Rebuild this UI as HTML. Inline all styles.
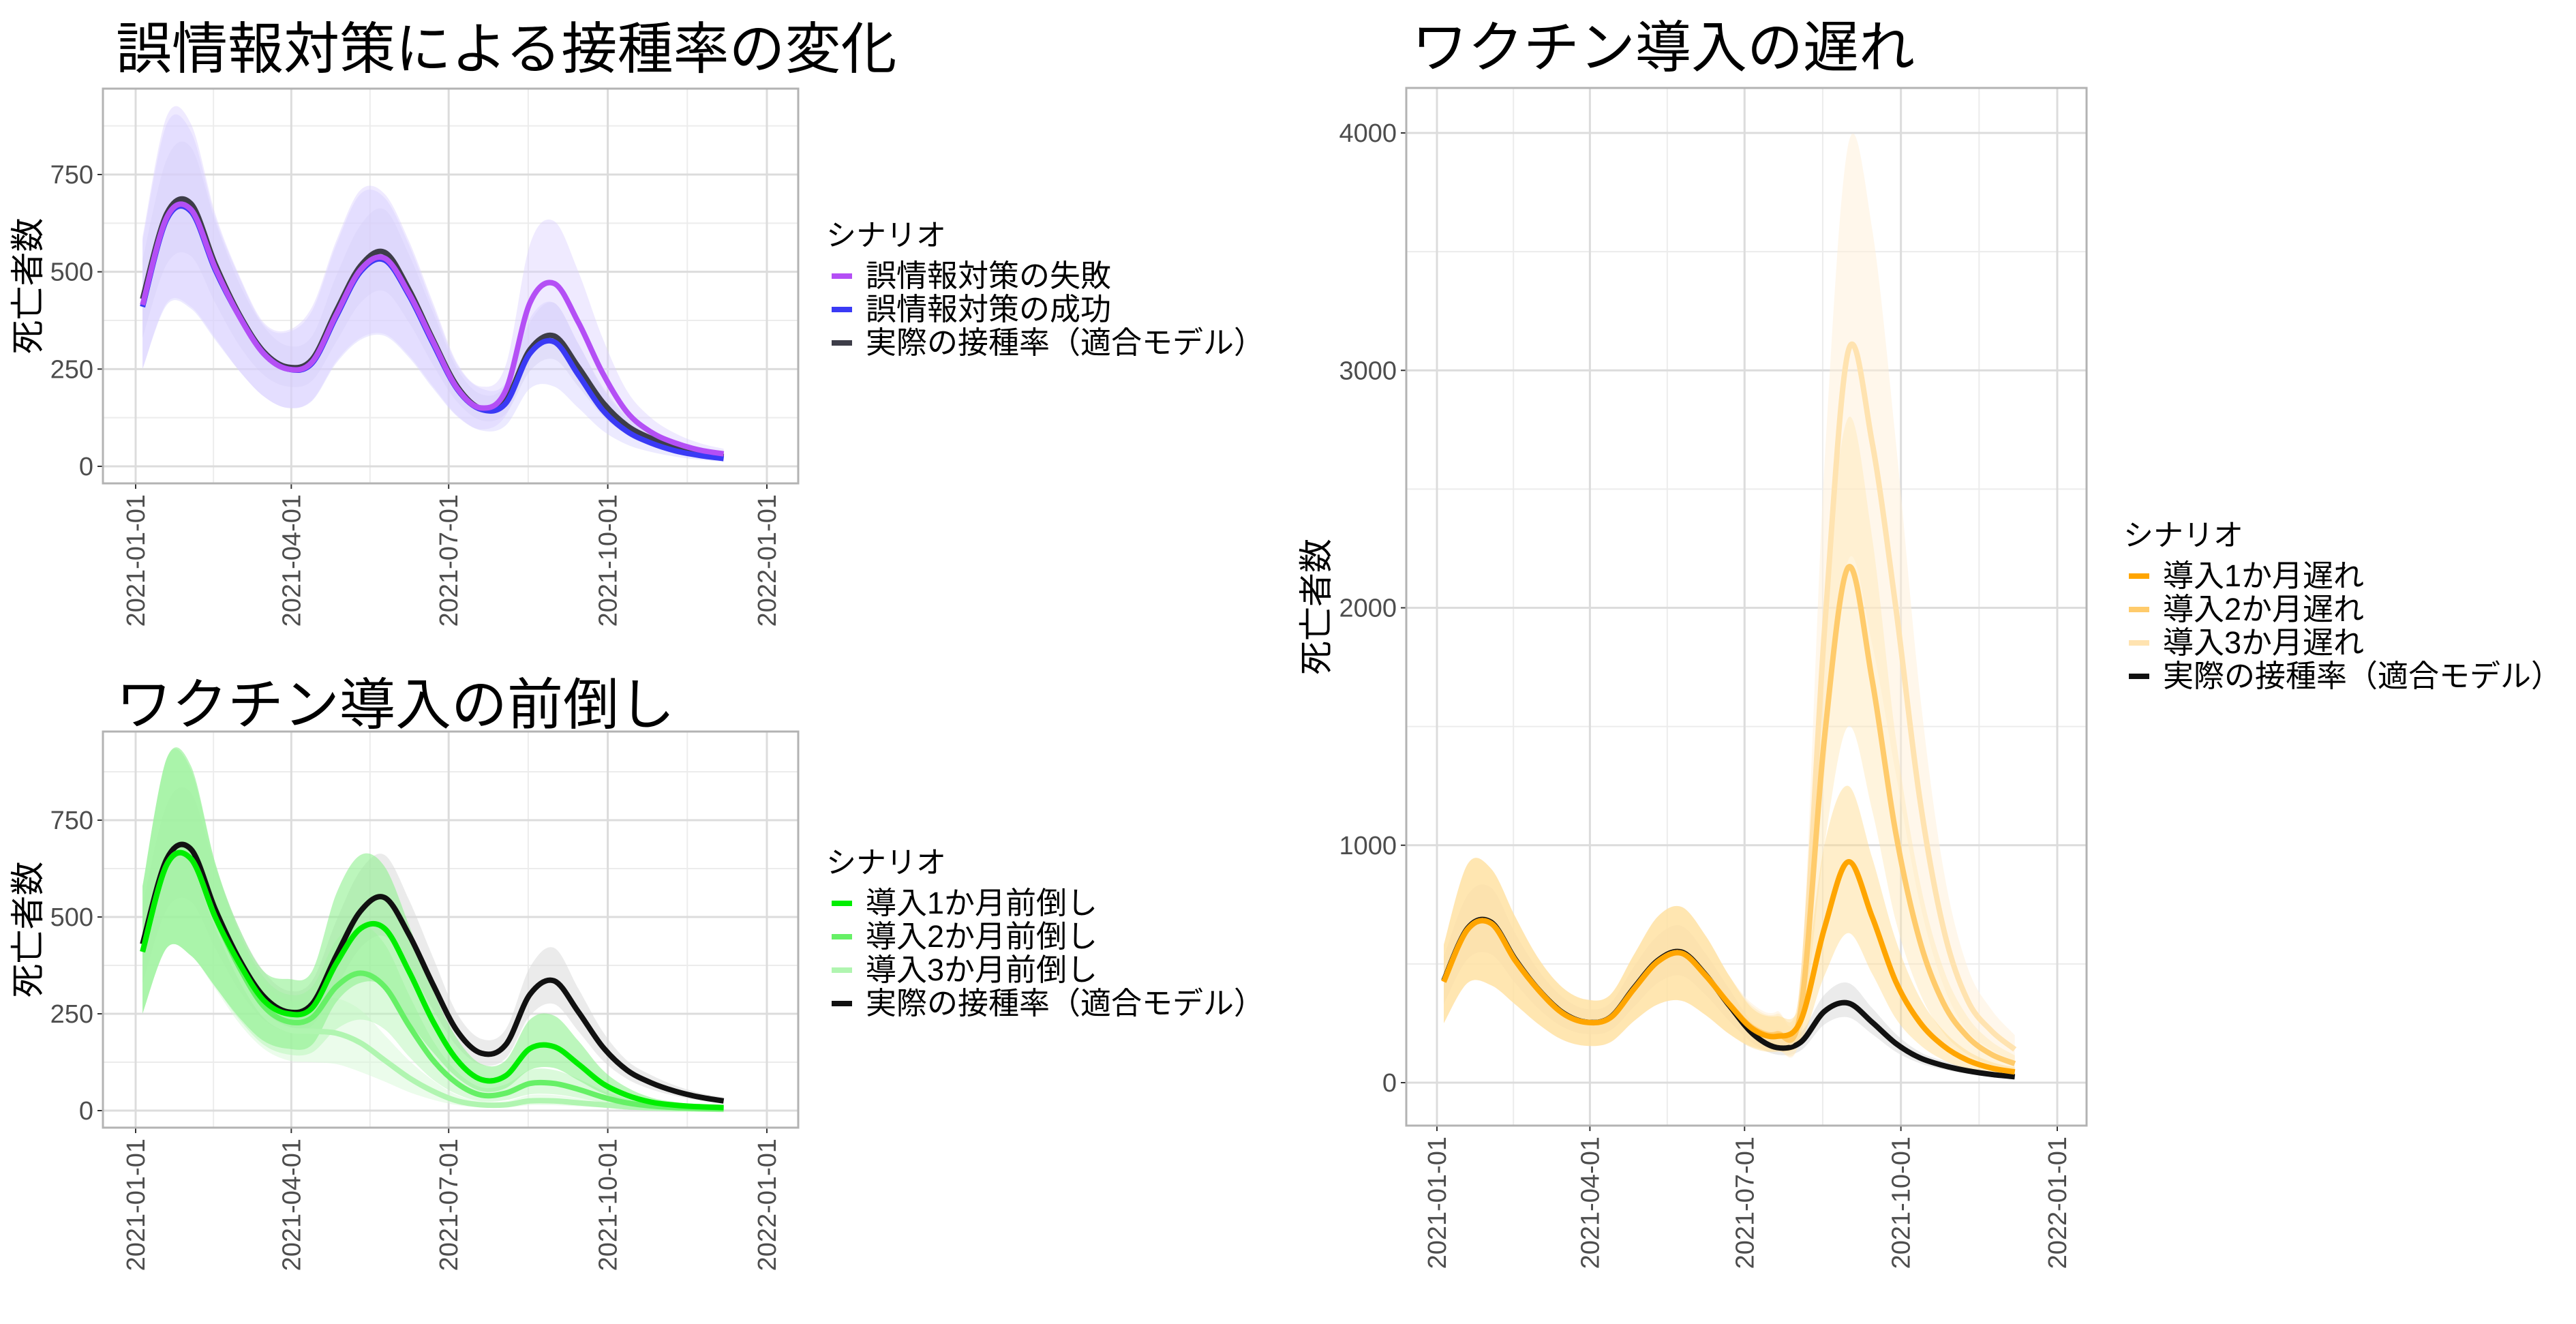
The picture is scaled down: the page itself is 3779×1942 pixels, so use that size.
<!DOCTYPE html>
<html><head><meta charset="utf-8">
<style>
html,body{margin:0;padding:0;background:#fff;}
svg{display:block;}
text{font-family:"Liberation Sans","Noto Sans CJK JP",sans-serif;}
</style></head>
<body>
<svg id="fig" width="3779" height="1942" viewBox="0 0 3779 1942" xmlns="http://www.w3.org/2000/svg">
<rect width="3779" height="1942" fill="#fff"/>
<text x="170" y="100" font-size="82" fill="#000">誤情報対策による接種率の変化</text>
<text x="170" y="1062" font-size="82" fill="#000">ワクチン導入の前倒し</text>
<text x="2071" y="98" font-size="82" fill="#000">ワクチン導入の遅れ</text>
<g id="p1"></g>
<g id="p2"></g>
<g id="p3"></g>
</svg>
<script>
const days = [4,18,32,46,60,74,88,102,116,130,144,158,172,186,200,214,228,242,256,270,284,298,312,326,340];
const xTickLabels = ["2021-01-01","2021-04-01","2021-07-01","2021-10-01","2022-01-01"];
const xTickDays = [0,90,181,273,365];

const actual = [430,650,675,520,390,295,255,275,400,515,550,455,325,205,148,170,300,335,255,165,105,72,50,35,25];
const actualLo = [330,520,540,420,310,235,205,220,320,420,450,370,260,165,118,135,245,275,205,130,82,55,38,26,18];
const actualHi = [530,790,820,630,470,360,310,335,490,620,660,545,395,250,185,210,370,420,315,205,130,92,65,46,34];

const misFail = [415,640,660,510,385,290,250,268,390,505,535,445,320,200,150,195,420,470,370,240,140,88,60,42,32];
const misFailLo = [250,420,410,330,245,180,150,170,270,330,340,285,205,130,95,130,280,330,250,160,92,58,40,28,20];
const misFailHi = [590,900,880,650,490,370,350,410,580,710,700,580,420,265,205,260,570,630,500,330,195,125,85,60,45];
const misSucc = [410,635,655,505,385,290,250,265,385,500,530,440,315,198,146,162,290,320,235,145,90,60,40,28,20];
const misSuccLo = [250,415,405,325,245,180,150,168,265,325,335,280,200,128,92,105,200,205,150,92,56,37,25,17,12];
const misSuccHi = [580,880,860,640,485,365,345,400,570,700,690,570,410,260,200,215,380,420,315,200,125,85,58,40,30];

const early1 = [410,635,650,500,380,285,250,265,380,470,470,360,230,130,80,90,160,165,120,70,40,22,14,10,8];
const early1Lo = [250,420,400,320,240,180,160,170,280,330,320,230,150,85,50,58,105,110,78,45,25,14,9,6,5];
const early1Hi = [580,910,890,640,470,360,340,360,560,660,630,480,310,185,120,130,235,245,180,105,60,34,22,15,12];
const early2 = [410,635,650,500,370,270,230,240,320,355,320,220,130,70,40,45,70,70,55,35,20,12,8,6,5];
const early2Lo = [250,420,400,320,235,170,145,150,210,235,210,140,80,42,24,27,42,42,33,21,12,7,5,3,3];
const early2Hi = [580,910,880,640,460,345,300,320,440,480,430,300,180,100,60,68,105,105,82,52,30,18,12,9,7];
const early3 = [410,635,650,490,350,250,210,205,200,175,130,85,50,25,15,15,25,25,20,15,10,7,5,4,3];
const early3Lo = [250,420,400,315,225,160,130,125,120,100,75,48,28,14,8,8,14,14,11,8,5,4,3,2,2];
const early3Hi = [580,910,880,630,445,330,285,285,290,260,195,130,78,40,24,24,40,40,32,24,16,11,8,6,5];

const delay1 = [425,645,670,515,388,292,254,273,395,510,545,452,330,225,195,260,650,930,700,425,255,155,95,62,45];
const delay1Lo = [250,420,410,330,245,180,155,170,260,330,345,285,205,145,130,170,450,630,460,270,160,95,58,38,27];
const delay1Hi = [580,920,900,700,520,400,350,370,540,700,740,620,450,310,280,340,1000,1250,950,600,360,220,135,88,64];
const delay2 = [425,645,670,515,388,292,254,273,395,510,545,452,332,230,205,300,1450,2170,1700,1050,600,335,195,120,80];
const delay2Lo = [250,420,410,330,245,180,155,170,260,330,345,285,205,150,135,190,1000,1500,1150,680,380,210,120,75,50];
const delay2Hi = [580,920,900,700,520,400,350,370,540,700,740,620,450,320,290,420,2000,2800,2300,1450,850,480,280,175,115];
const delay3 = [425,645,670,515,388,292,254,273,395,510,545,452,335,235,212,330,1900,3080,2700,2000,1200,650,350,220,140];
const delay3Lo = [250,420,410,330,245,180,155,170,260,330,345,285,205,150,140,210,1300,2200,1850,1300,760,410,220,140,90];
const delay3Hi = [580,920,900,700,520,400,350,370,540,700,740,620,450,330,300,450,2600,3950,3600,2700,1650,900,490,310,200];

const yTicks1 = [0,250,500,750];
const yTicks3 = [0,1000,2000,3000,4000];

const NS = "http://www.w3.org/2000/svg";
function mk(parent, tag, attrs){
  const e = document.createElementNS(NS, tag);
  for (const k in attrs) e.setAttribute(k, attrs[k]);
  parent.appendChild(e);
  return e;
}
function smoothPath(pts){
  let d = "M" + pts[0][0].toFixed(1) + "," + pts[0][1].toFixed(1);
  for (let i = 0; i < pts.length - 1; i++){
    const p0 = pts[Math.max(0,i-1)], p1 = pts[i], p2 = pts[i+1], p3 = pts[Math.min(pts.length-1,i+2)];
    const c1 = [p1[0] + (p2[0]-p0[0])/6, p1[1] + (p2[1]-p0[1])/6];
    const c2 = [p2[0] - (p3[0]-p1[0])/6, p2[1] - (p3[1]-p1[1])/6];
    d += " C" + c1[0].toFixed(1) + "," + c1[1].toFixed(1) + " " + c2[0].toFixed(1) + "," + c2[1].toFixed(1) + " " + p2[0].toFixed(1) + "," + p2[1].toFixed(1);
  }
  return d;
}

function drawPanel(cfg){
  const g = document.getElementById(cfg.id);
  const xs = d => cfg.x0 + d * (cfg.x1 - cfg.x0) / 365;
  const ys = v => cfg.y0 - v * (cfg.y0 - cfg.yTop) / cfg.yTopVal;
  const step = cfg.yTicks[1] - cfg.yTicks[0];
  for (let i = 0; i < cfg.yTicks.length; i++){
    const mv = cfg.yTicks[i] + step/2;
    const ym = ys(mv);
    if (ym > cfg.top){
      const l = mk(g, "line", {x1:cfg.left, x2:cfg.right, y1:ym, y2:ym, stroke:"#ececec", "stroke-width":2});
      
      
    }
  }
  for (let i = 0; i < xTickDays.length - 1; i++){
    const xm = xs((xTickDays[i] + xTickDays[i+1]) / 2);
    const l = mk(g, "line", {x1:xm, x2:xm, y1:cfg.top, y2:cfg.bottom, stroke:"#ececec", "stroke-width":2});
    
    
  }
  cfg.yTicks.forEach(v => {
    const y = ys(v);
    const l = mk(g, "line", {x1:cfg.left, x2:cfg.right, y1:y, y2:y, stroke:"#dcdcdc", "stroke-width":3});
    
    
    const t = mk(g, "text", {x:cfg.left - 14, y:y + 13, "font-size":38, fill:"#4d4d4d", "text-anchor":"end"});
    t.textContent = v;
    
    
    const tk = mk(g, "line", {x1:cfg.left - 8, x2:cfg.left, y1:y, y2:y, stroke:"#333", "stroke-width":2});
    
    
  });
  xTickDays.forEach((d, i) => {
    const x = xs(d);
    const l = mk(g, "line", {x1:x, x2:x, y1:cfg.top, y2:cfg.bottom, stroke:"#dcdcdc", "stroke-width":3});
    
    
    const tk = mk(g, "line", {x1:x, x2:x, y1:cfg.bottom, y2:cfg.bottom + 8, stroke:"#333", "stroke-width":2});
    
    
    const t = mk(g, "text", {x:0, y:0, "font-size":38, fill:"#4d4d4d", "text-anchor":"end",
      transform:"translate(" + (x + 13) + "," + (cfg.bottom + 16) + ") rotate(-90)"});
    t.textContent = xTickLabels[i];
    
    
  });
  cfg.series.slice().reverse().forEach(s => {
    const up = days.map((d, i) => [xs(d), ys(s.hi[i])]);
    const lo = days.map((d, i) => [xs(d), ys(s.lo[i])]).reverse();
    const dU = smoothPath(up);
    const dL = smoothPath(lo).replace(/^M/, "L");
    const p = mk(g, "path", {d: dU + " " + dL + " Z", fill:s.band, "fill-opacity":s.bandOp, stroke:"none"});
    
    
  });
  cfg.series.slice().reverse().forEach(s => {
    const pts = days.map((d, i) => [xs(d), ys(s.v[i])]);
    const p = mk(g, "path", {d: smoothPath(pts), fill:"none", stroke:s.color, "stroke-width":8, "stroke-linejoin":"round", "stroke-opacity":s.lineOp || 1});
    
    
  });
  const b = mk(g, "rect", {x:cfg.left, y:cfg.top, width:cfg.right - cfg.left, height:cfg.bottom - cfg.top, fill:"none", stroke:"#b3b3b3", "stroke-width":3});
  
  
  const yt = mk(g, "text", {x:0, y:0, "font-size":50, fill:"#000", "text-anchor":"middle",
    transform:"translate(" + cfg.ytx + "," + ((cfg.top + cfg.bottom)/2) + ") rotate(-90)"});
  yt.textContent = "死亡者数";
  
  
  const lt = mk(g, "text", {x:cfg.lx, y:cfg.ly, "font-size":44, fill:"#000"});
  lt.textContent = "シナリオ";
  
  
  cfg.series.forEach((s, i) => {
    const yy = cfg.ly + 60 + i * 49;
    const kl = mk(g, "line", {x1:cfg.lx + 8, x2:cfg.lx + 38, y1:yy - 15, y2:yy - 15, stroke:s.color, "stroke-width":8, "stroke-opacity":s.lineOp || 1});
    
    
    const tt = mk(g, "text", {x:cfg.lx + 58, y:yy, "font-size":45, fill:"#000"});
    tt.textContent = s.label;
    
    
  });
}

drawPanel({id:"p1", left:151, right:1171, top:130, bottom:709, x0:199, x1:1125, y0:684, yTop:256, yTopVal:750,
  yTicks:yTicks1, ytx:58, lx:1212, ly:360,
  series:[
    {key:"misinfo-failure", label:"誤情報対策の失敗", v:misFail, lo:misFailLo, hi:misFailHi, color:"#b44ff5", band:"#dcd0ff", bandOp:0.45},
    {key:"misinfo-success", label:"誤情報対策の成功", v:misSucc, lo:misSuccLo, hi:misSuccHi, color:"#3a3af5", band:"#d4d0ff", bandOp:0.45},
    {key:"actual", label:"実際の接種率（適合モデル）", v:actual, lo:actualLo, hi:actualHi, color:"#3d3d48", band:"#c8c4e0", bandOp:0.35}
  ]});

drawPanel({id:"p2", left:151, right:1171, top:1073, bottom:1654, x0:199, x1:1125, y0:1629, yTop:1203, yTopVal:750,
  yTicks:yTicks1, ytx:58, lx:1212, ly:1280,
  series:[
    {key:"early-1m", label:"導入1か月前倒し", v:early1, lo:early1Lo, hi:early1Hi, color:"#00ee00", band:"#90f090", bandOp:0.6},
    {key:"early-2m", label:"導入2か月前倒し", v:early2, lo:early2Lo, hi:early2Hi, color:"#66f066", band:"#b8f5b8", bandOp:0.5},
    {key:"early-3m", label:"導入3か月前倒し", v:early3, lo:early3Lo, hi:early3Hi, color:"#b0f5b0", band:"#d8fad8", bandOp:0.5},
    {key:"actual", label:"実際の接種率（適合モデル）", v:actual, lo:actualLo, hi:actualHi, color:"#111111", band:"#d8d8d8", bandOp:0.5}
  ]});

drawPanel({id:"p3", left:2063, right:3061, top:129, bottom:1651, x0:2108, x1:3018, y0:1588, yTop:195, yTopVal:4000,
  yTicks:yTicks3, ytx:1948, lx:3115, ly:800,
  series:[
    {key:"delay-1m", label:"導入1か月遅れ", v:delay1, lo:delay1Lo, hi:delay1Hi, color:"#ffa500", band:"#ffd98a", bandOp:0.45},
    {key:"delay-2m", label:"導入2か月遅れ", v:delay2, lo:delay2Lo, hi:delay2Hi, color:"#ffcb6b", band:"#ffe6b3", bandOp:0.45},
    {key:"delay-3m", label:"導入3か月遅れ", v:delay3, lo:delay3Lo, hi:delay3Hi, color:"#ffe3b0", band:"#fff0d8", bandOp:0.5},
    {key:"actual", label:"実際の接種率（適合モデル）", v:actual, lo:actualLo, hi:actualHi, color:"#111111", band:"#d8d8d8", bandOp:0.5}
  ]});
</script>
</body></html>
